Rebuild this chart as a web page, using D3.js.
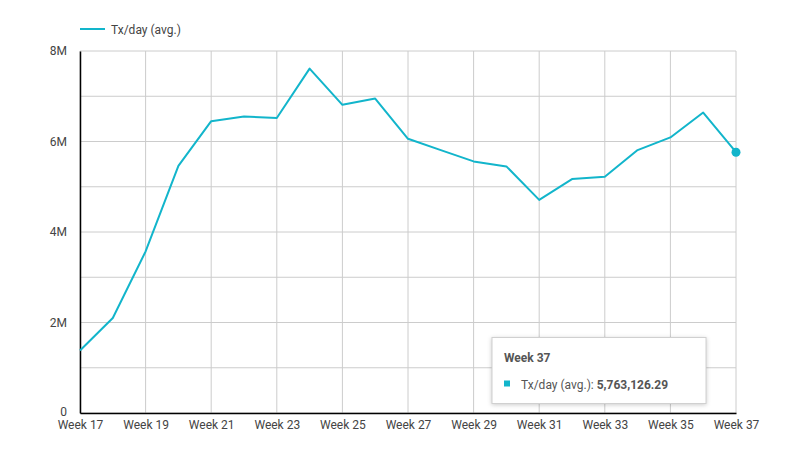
<!DOCTYPE html>
<html>
<head>
<meta charset="utf-8">
<script src="https://cdn.jsdelivr.net/npm/d3@7"></script>
<style>
  body { margin: 0; background: #fff; font-family: Roboto, "Noto Sans", sans-serif; }
  .tick text { font-family: Roboto, sans-serif; font-size: 12px; fill: #444; }
</style>
</head>
<body>
<div id="chart"></div>
<script>
// Weekly average transactions per day
var weeks = ["Week 17", "Week 18", "Week 19", "Week 20", "Week 21", "Week 22", "Week 23",
             "Week 24", "Week 25", "Week 26", "Week 27", "Week 28", "Week 29", "Week 30",
             "Week 31", "Week 32", "Week 33", "Week 34", "Week 35", "Week 36", "Week 37"];
var txPerDay = [1380000, 2100000, 3570000, 5460000, 6450000, 6550000, 6520000,
                7610000, 6810000, 6950000, 6060000, 5810000, 5560000, 5450000,
                4710000, 5170000, 5220000, 5810000, 6090000, 6640000, 5763126.29];
var yTicks = [0, 2000000, 4000000, 6000000, 8000000];
var seriesName = "Tx/day (avg.)";
var color = "#12b5cb";

var margin = {top: 51, right: 54, bottom: 37, left: 80};
var width = 790 - margin.left - margin.right;
var height = 450 - margin.top - margin.bottom;

var svg = d3.select("#chart").append("svg")
    .attr("width", 790)
    .attr("height", 450);

var g = svg.append("g")
    .attr("transform", "translate(" + margin.left + "," + margin.top + ")");

var x = d3.scalePoint().domain(weeks).range([0, width]);
var y = d3.scaleLinear().domain([0, 8000000]).range([height, 0]);

// Grid: horizontal every 1M, vertical every 2 weeks
g.selectAll("line.hgrid").data(d3.range(0, 8000001, 1000000)).enter()
  .append("line")
    .attr("class", "hgrid")
    .attr("x1", 0).attr("x2", width)
    .attr("y1", function(d) { return y(d); })
    .attr("y2", function(d) { return y(d); })
    .attr("stroke", "#cccccc").attr("stroke-width", 1);

var labelWeeks = weeks.filter(function(d, i) { return i % 2 === 0; });
g.selectAll("line.vgrid").data(labelWeeks).enter()
  .append("line")
    .attr("class", "vgrid")
    .attr("x1", function(d) { return x(d); })
    .attr("x2", function(d) { return x(d); })
    .attr("y1", 0).attr("y2", height)
    .attr("stroke", "#cccccc").attr("stroke-width", 1);

// Axes
var xAxis = g.append("g")
    .attr("transform", "translate(0," + height + ")")
    .call(d3.axisBottom(x).tickValues(labelWeeks).tickSize(0).tickPadding(7));
xAxis.select(".domain").attr("stroke", "#000").attr("stroke-width", 1.5);

var fmt = function(d) { return d === 0 ? "0" : (d / 1000000) + "M"; };
var yAxis = g.append("g")
    .call(d3.axisLeft(y).tickValues(yTicks).tickFormat(fmt).tickSize(0).tickPadding(13));
yAxis.select(".domain").attr("stroke", "#000").attr("stroke-width", 1.5);
// nudge the zero label up so it clears the first week label
yAxis.selectAll(".tick text").filter(function(d) { return d === 0; }).attr("dy", "0.2em");

// Line
var line = d3.line()
    .x(function(d, i) { return x(weeks[i]); })
    .y(function(d) { return y(d); });

g.append("path")
    .datum(txPerDay)
    .attr("fill", "none")
    .attr("stroke", color)
    .attr("stroke-width", 2)
    .attr("stroke-linejoin", "round")
    .attr("d", line);

// Highlighted last point
var last = txPerDay.length - 1;
g.append("circle")
    .attr("cx", x(weeks[last]))
    .attr("cy", y(txPerDay[last]))
    .attr("r", 4.5)
    .attr("fill", color);

// Legend
var legend = svg.append("g").attr("transform", "translate(80,29)");
legend.append("line")
    .attr("x1", 0).attr("x2", 25)
    .attr("stroke", color).attr("stroke-width", 2);
legend.append("text")
    .attr("x", 31).attr("y", 4.5)
    .style("font-size", "12px").style("fill", "#444")
    .text(seriesName);

// Tooltip
var tip = svg.append("g").attr("transform", "translate(492,337.5)");
tip.append("rect")
    .attr("width", 214).attr("height", 66)
    .attr("fill", "#fff")
    .attr("stroke", "#d0d0d0")
    .style("filter", "drop-shadow(0px 1px 2px rgba(0,0,0,0.2))");
tip.append("text")
    .attr("x", 12).attr("y", 24)
    .style("font-size", "12px").style("font-weight", "bold").style("fill", "#555")
    .text(weeks[last]);
tip.append("rect")
    .attr("x", 12).attr("y", 43).attr("width", 6).attr("height", 6)
    .attr("fill", color);
var tipText = tip.append("text")
    .attr("x", 29).attr("y", 51)
    .style("font-size", "12px").style("fill", "#555");
tipText.append("tspan").text(seriesName + ": ");
tipText.append("tspan").style("font-weight", "bold")
    .text(d3.format(",.2f")(txPerDay[last]));
</script>
</body>
</html>
